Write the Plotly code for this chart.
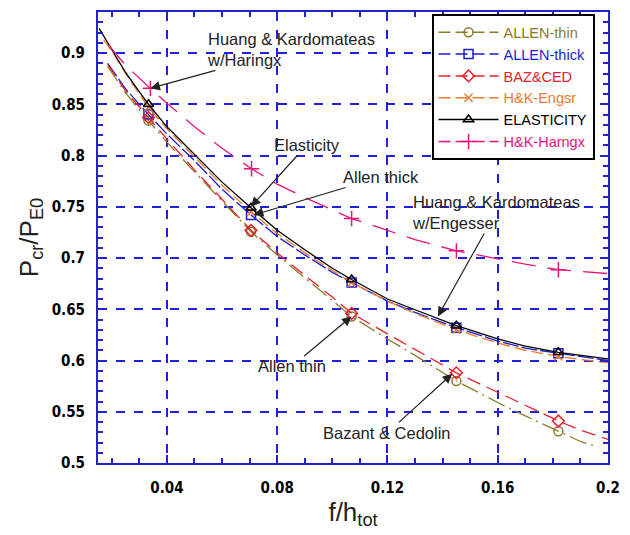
import plotly.graph_objects as go

# ---------------- data ----------------
ALLEN_THIN_X = [0.0185, 0.025, 0.0333, 0.04, 0.05, 0.06, 0.0705, 0.08, 0.09, 0.10, 0.107, 0.12, 0.13, 0.145, 0.16, 0.17, 0.182, 0.19, 0.196]
ALLEN_THIN_Y = [0.887, 0.861, 0.834, 0.813, 0.784, 0.755, 0.7256, 0.703, 0.681, 0.659, 0.643, 0.621, 0.605, 0.580, 0.559, 0.546, 0.531, 0.521, 0.516]

ALLEN_THICK_X = [0.0185, 0.025, 0.0333, 0.04, 0.05, 0.06, 0.0705, 0.08, 0.09, 0.10, 0.107, 0.12, 0.13, 0.145, 0.16, 0.17, 0.182, 0.19, 0.2]
ALLEN_THICK_Y = [0.890, 0.865, 0.840, 0.821, 0.795, 0.767, 0.742, 0.721, 0.703, 0.686, 0.676, 0.658, 0.647, 0.632, 0.619, 0.612, 0.607, 0.604, 0.600]

BAZCED_X = [0.0185, 0.025, 0.0333, 0.04, 0.05, 0.06, 0.0705, 0.08, 0.09, 0.10, 0.107, 0.12, 0.13, 0.145, 0.16, 0.17, 0.182, 0.19, 0.2]
BAZCED_Y = [0.889, 0.863, 0.837, 0.816, 0.786, 0.757, 0.727, 0.705, 0.683, 0.662, 0.646, 0.626, 0.611, 0.588, 0.569, 0.556, 0.541, 0.532, 0.523]

HK_ENGSR_X = [0.017, 0.02, 0.025, 0.03, 0.0333, 0.04, 0.05, 0.06, 0.0705, 0.08, 0.09, 0.10, 0.107, 0.12, 0.13, 0.145, 0.16, 0.17, 0.182, 0.19, 0.2]
HK_ENGSR_Y = [0.913, 0.902, 0.880, 0.860, 0.847, 0.826, 0.798, 0.771, 0.745, 0.724, 0.705, 0.688, 0.676, 0.658, 0.646, 0.630, 0.617, 0.610, 0.604, 0.601, 0.598]

ELAS_X = [0.0154, 0.02, 0.025, 0.03, 0.0333, 0.04, 0.05, 0.06, 0.0705, 0.08, 0.09, 0.10, 0.107, 0.12, 0.13, 0.1375, 0.145, 0.16, 0.17, 0.182, 0.19, 0.2]
ELAS_Y = [0.924, 0.903, 0.881, 0.862, 0.850, 0.828, 0.801, 0.774, 0.749, 0.727, 0.708, 0.690, 0.679, 0.660, 0.6495, 0.6415, 0.634, 0.621, 0.614, 0.608, 0.605, 0.6015]

HK_HARN_X = [0.0188, 0.025, 0.034, 0.04, 0.05, 0.06, 0.0707, 0.08, 0.09, 0.10, 0.107, 0.12, 0.13, 0.145, 0.16, 0.17, 0.182, 0.19, 0.2]
HK_HARN_Y = [0.908, 0.888, 0.8655, 0.851, 0.828, 0.807, 0.787, 0.772, 0.759, 0.747, 0.7385, 0.727, 0.718, 0.707, 0.699, 0.694, 0.6886, 0.687, 0.6848]

# indices of the points that carry a marker symbol
MARK_IDX_18 = [2, 6, 10, 13, 16]       # series starting at ~0.0185
MARK_IDX_ENG = [4, 8, 12, 15, 18]
MARK_IDX_ELAS = [4, 8, 12, 16, 19]

SERIES_NAMES = ["ALLEN-thin", "ALLEN-thick", "BAZ&CED", "H&K-Engsr", "ELASTICITY", "H&K-Harngx"]

X_TICKS = [0.04, 0.08, 0.12, 0.16, 0.2]
X_TICK_TEXT = ["0.04", "0.08", "0.12", "0.16", "0.2"]
Y_TICKS = [0.5, 0.55, 0.6, 0.65, 0.7, 0.75, 0.8, 0.85, 0.9]
Y_TICK_TEXT = ["0.5", "0.55", "0.6", "0.65", "0.7", "0.75", "0.8", "0.85", "0.9"]

# ---------------- styles ----------------
OLIVE = "#8c7a2a"
BLUE = "#1c1ccf"
RED = "#e8202a"
ORANGE = "#f07a2c"
BLACK = "#000000"
MAGENTA = "#e8137a"
AXBLUE = "#2323c8"
GRIDBLUE = "#1f1fe6"

series = [
    dict(name=SERIES_NAMES[0], x=ALLEN_THIN_X, y=ALLEN_THIN_Y, idx=MARK_IDX_18, color=OLIVE,
         dash="18px,5px,2px,5px", symbol="circle-open", size=9),
    dict(name=SERIES_NAMES[1], x=ALLEN_THICK_X, y=ALLEN_THICK_Y, idx=MARK_IDX_18, color=BLUE,
         dash="16px,3px", symbol="square-open", size=9),
    dict(name=SERIES_NAMES[2], x=BAZCED_X, y=BAZCED_Y, idx=MARK_IDX_18, color=RED,
         dash="14px,7px", symbol="diamond-open", size=9),
    dict(name=SERIES_NAMES[3], x=HK_ENGSR_X, y=HK_ENGSR_Y, idx=MARK_IDX_ENG, color=ORANGE,
         dash="12px,5px", symbol="x-thin-open", size=8),
    dict(name=SERIES_NAMES[4], x=ELAS_X, y=ELAS_Y, idx=MARK_IDX_ELAS, color=BLACK,
         dash="solid", symbol="triangle-up-open", size=9),
    dict(name=SERIES_NAMES[5], x=HK_HARN_X, y=HK_HARN_Y, idx=MARK_IDX_18, color=MAGENTA,
         dash="24px,12px", symbol="cross-thin-open", size=11),
]

fig = go.Figure()

for s in series:
    fig.add_trace(go.Scatter(
        x=s["x"], y=s["y"], mode="lines", showlegend=False, hoverinfo="skip",
        line=dict(color=s["color"], width=1.3, dash=s["dash"])))
    fig.add_trace(go.Scatter(
        x=[s["x"][i] for i in s["idx"]], y=[s["y"][i] for i in s["idx"]],
        mode="markers", showlegend=False,
        marker=dict(symbol=s["symbol"], size=s["size"], color=s["color"],
                    line=dict(color=s["color"], width=1.5))))

for s in series:
    fig.add_trace(go.Scatter(
        x=[None], y=[None], mode="lines+markers",
        name="<span style='color:%s'>%s</span>" % (s["color"], s["name"]),
        line=dict(color=s["color"], width=1.5, dash=s["dash"] if s["dash"] == "solid" else "12px,5px"),
        marker=dict(symbol=s["symbol"], size=s["size"], color=s["color"],
                    line=dict(color=s["color"], width=1.5))))

tickfont = dict(family="Liberation Sans Narrow, DejaVu Sans Condensed, Arial Narrow, sans-serif",
                size=15, color="black", weight="bold")

axis_common = dict(
    showline=True, linecolor=AXBLUE, linewidth=2, mirror="allticks",
    ticks="inside", ticklen=8, tickwidth=1.5, tickcolor=AXBLUE,
    showgrid=True, gridcolor=GRIDBLUE, gridwidth=1.5, griddash="dash",
    zeroline=False, tickfont=tickfont,
)

title_font = dict(family="Liberation Sans, Arial, sans-serif", size=26, color="#222")

fig.update_xaxes(
    range=[0.015, 0.2], tickvals=X_TICKS, ticktext=X_TICK_TEXT,
    minor=dict(dtick=0.01, tick0=0, ticks="inside", ticklen=5, tickcolor=AXBLUE, tickwidth=1.5, showgrid=False),
    title=dict(text="f/h<sub>tot</sub>", font=title_font, standoff=0),
    ticklabelstandoff=10,
    **axis_common)
fig.update_yaxes(
    range=[0.5, 0.94], tickvals=Y_TICKS, ticktext=Y_TICK_TEXT,
    minor=dict(dtick=0.01, tick0=0, ticks="inside", ticklen=5, tickcolor=AXBLUE, tickwidth=1.5, showgrid=False),
    title=dict(text="P<sub>cr</sub>/P<sub>E0</sub>", font=title_font, standoff=6),
    ticklabelstandoff=8,
    **axis_common)

ann_font = dict(family="Liberation Sans, Arial, sans-serif", size=16.5, color="#222")
annotations = [
    dict(x=0.034, y=0.8655, text="Huang & Kardomateas<br>w/Haringx", ax=141, ay=-39, align="left"),
    dict(x=0.0705, y=0.750, text="Elasticity", ax=56, ay=-62, align="center"),
    dict(x=0.0715, y=0.742, text="Allen thick", ax=127, ay=-38, align="center"),
    dict(x=0.1383, y=0.643, text="Huang & Kardomateas<br>w/Engesser", ax=58, ay=-104, align="left"),
    dict(x=0.107, y=0.643, text="Allen thin", ax=-60, ay=50, align="center"),
    dict(x=0.1435, y=0.587, text="Bazant & Cedolin", ax=-65, ay=59, align="center"),
]
for a in annotations:
    fig.add_annotation(xref="x", yref="y", showarrow=True, arrowhead=2, arrowsize=1.6,
                       arrowwidth=1.2, arrowcolor="#222", font=ann_font, **a)

fig.update_layout(
    width=630, height=535,
    margin=dict(l=98, r=20, t=10, b=72),
    paper_bgcolor="white", plot_bgcolor="white",
    legend=dict(x=0.654, y=0.995, xanchor="left", yanchor="top",
                bgcolor="white", bordercolor="black", borderwidth=2,
                font=dict(family="Liberation Sans, Arial, sans-serif", size=14.5),
                itemwidth=60, tracegroupgap=0),
)

fig.write_html("out.html", config={"displayModeBar": False},
               post_script="document.body.style.margin='0px';")
